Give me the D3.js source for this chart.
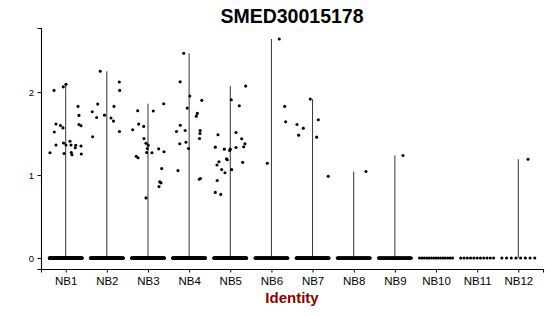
<!DOCTYPE html>
<html>
<head>
<meta charset="utf-8">
<script src="https://cdn.jsdelivr.net/npm/d3@7"></script>
<style>
  body { margin: 0; background: #fff; }
  text { font-family: "Liberation Sans", Arial, sans-serif; }
</style>
</head>
<body>
<div id="vln"></div>
<script>
// identities on the x axis
const identities = ["NB1", "NB2", "NB3", "NB4", "NB5", "NB6", "NB7", "NB8", "NB9", "NB10", "NB11", "NB12"];
const yTicks = [0, 1, 2];
const geneName = "SMED30015178";

// non-zero expression values per identity, with their jitter offset (fraction of a category step)
const nb1Values = [2.02, 2.063, 2.093, 1.827, 1.719, 1.610, 1.594, 1.616, 1.598, 1.568, 1.519, 1.362, 1.386, 1.362, 1.408, 1.362, 1.360, 1.329, 1.350, 1.268, 1.260, 1.272, 1.244, 1.254];
const nb1Jitter = [-0.284, -0.058, 0.007, 0.299, 0.323, 0.323, 0.372, -0.236, -0.126, -0.066, -0.277, -0.236, -0.053, 0.007, 0.104, 0.129, 0.243, 0.233, 0.372, -0.382, -0.041, 0.136, 0.153, 0.379];
const nb2Values = [2.250, 2.121, 2.020, 1.855, 1.763, 1.694, 1.722, 1.827, 1.688, 1.650, 1.525, 1.461];
const nb2Jitter = [-0.159, 0.303, 0.312, -0.222, -0.354, -0.247, -0.057, 0.174, 0.101, 0.162, 0.307, -0.344];
const nb3Values = [1.860, 1.775, 1.771, 1.614, 1.586, 1.546, 1.441, 1.384, 1.360, 1.320, 1.272, 1.268, 1.316, 1.280, 1.227, 1.208, 1.078, 0.918, 0.906, 0.861, 0.725];
const nb3Jitter = [0.382, -0.250, 0.129, -0.226, -0.104, -0.372, -0.097, -0.049, 0.007, -0.017, -0.032, 0.097, 0.260, 0.39, -0.284, -0.243, 0.333, 0.284, 0.316, 0.267, -0.049];
const nb4Values = [2.467, 2.123, 1.952, 1.900, 1.807, 1.743, 1.710, 1.600, 1.525, 1.537, 1.537, 1.501, 1.441, 1.377, 1.396, 1.320, 1.054, 0.958, 0.949];
const nb4Jitter = [-0.132, -0.218, 0.016, 0.307, -0.045, 0.198, 0.174, -0.215, -0.307, -0.096, 0.269, 0.264, 0.252, -0.227, -0.077, -0.016, -0.271, 0.276, 0.247];
const nb5Values = [2.072, 1.908, 1.836, 1.486, 1.513, 1.437, 1.377, 1.341, 1.336, 1.312, 1.312, 1.296, 1.332, 1.161, 1.121, 1.197, 1.184, 1.153, 1.066, 1.066, 1.028, 0.934, 0.791, 0.767];
const nb5Jitter = [0.374, 0.024, 0.219, -0.299, 0.139, 0.277, 0.357, 0.326, -0.365, -0.146, 0, -0.015, 0.139, -0.275, -0.323, -0.092, -0.073, 0.301, -0.209, 0.034, -0.129, -0.318, -0.365, -0.231];
const nb6Values = [2.640, 1.827, 1.643, 1.143];
const nb6Jitter = [0.191, 0.322, 0.346, -0.101];
const nb7Values = [1.915, 1.610, 1.565, 1.481, 1.667, 1.457, 0.986];
const nb7Jitter = [-0.056, -0.379, -0.226, -0.338, 0.139, 0.100, 0.381];
const nb8Values = [1.042];
const nb8Jitter = [0.298];
const nb9Values = [1.236];
const nb9Jitter = [0.197];
const nb10Values = [];
const nb10Jitter = [];
const nb11Values = [];
const nb11Jitter = [];
const nb12Values = [1.191];
const nb12Jitter = [0.236];

// estimated number of cells with zero expression in each identity
const zeroCounts = [260, 250, 230, 240, 230, 120, 150, 110, 100, 15, 11, 8];

const groupValues = [nb1Values, nb2Values, nb3Values, nb4Values, nb5Values, nb6Values, nb7Values, nb8Values, nb9Values, nb10Values, nb11Values, nb12Values];
const groupJitter = [nb1Jitter, nb2Jitter, nb3Jitter, nb4Jitter, nb5Jitter, nb6Jitter, nb7Jitter, nb8Jitter, nb9Jitter, nb10Jitter, nb11Jitter, nb12Jitter];

const W = 550, H = 316;
const margin = {top: 28, right: 7, bottom: 47, left: 41};
const width = W - margin.left - margin.right,
      height = H - margin.top - margin.bottom;

const svg = d3.select("#vln")
  .append("svg")
    .attr("width", W)
    .attr("height", H);

const g = svg.append("g")
    .attr("transform", `translate(${margin.left},${margin.top})`);

// build the cell table
const cells = [];
identities.forEach((id, i) => {
  groupValues[i].forEach((v, k) => cells.push({id: id, value: v, jit: groupJitter[i][k]}));
  const n = zeroCounts[i];
  for (let k = 0; k < n; k++) {
    cells.push({id: id, value: 0, jit: n > 1 ? -0.4 + 0.8 * k / (n - 1) : 0});
  }
});

const x = d3.scalePoint()
  .domain(identities)
  .range([0, width])
  .padding(0.6);

const yMax = d3.max(cells, d => d.value);
const pad = yMax * 0.05;
const y = d3.scaleLinear()
  .domain([-pad, yMax + pad])
  .range([height, 0]);

// violins collapse to a thin line from 0 to the max value
identities.forEach((id, i) => {
  const m = d3.max(groupValues[i]);
  if (!m) return;
  g.append("line")
    .attr("x1", x(id)).attr("x2", x(id))
    .attr("y1", y(0)).attr("y2", y(m))
    .attr("stroke", "#333")
    .attr("stroke-width", 1);
});

// jittered points
g.append("g")
  .selectAll("circle")
  .data(cells)
  .join("circle")
    .attr("cx", d => x(d.id) + d.jit * x.step())
    .attr("cy", d => y(d.value))
    .attr("r", 1.55)
    .attr("fill", "#000");

// axes
const xAxis = g.append("g")
  .attr("transform", `translate(0,${height})`)
  .call(d3.axisBottom(x).tickSizeOuter(0).tickSize(3.5).tickPadding(4));
xAxis.select(".domain").attr("stroke", "#000").attr("stroke-width", 1.1);
xAxis.selectAll(".tick line").attr("stroke", "#000");
xAxis.selectAll(".tick text")
  .attr("font-size", "11.5px")
  .attr("fill", "#000")
  .style("font-family", "'Liberation Sans', Arial, sans-serif");

const yAxis = g.append("g")
  .call(d3.axisLeft(y).tickValues(yTicks).tickFormat(d3.format("d")).tickSizeOuter(0).tickSize(3.5).tickPadding(3.5));
yAxis.select(".domain").attr("stroke", "#000").attr("stroke-width", 1.1);
yAxis.selectAll(".tick line").attr("stroke", "#000");
yAxis.selectAll(".tick text")
  .attr("font-size", "9.5px")
  .attr("fill", "#000")
  .style("font-family", "'Liberation Sans', Arial, sans-serif");

// title
svg.append("text")
  .attr("x", margin.left + width / 2)
  .attr("y", 22.7)
  .attr("text-anchor", "middle")
  .attr("font-size", "19.5px")
  .attr("font-weight", "bold")
  .attr("fill", "#000")
  .text(geneName);

// x axis title
svg.append("text")
  .attr("x", margin.left + width / 2)
  .attr("y", 303)
  .attr("text-anchor", "middle")
  .attr("font-size", "15px")
  .attr("font-weight", "bold")
  .attr("fill", "#8b0000")
  .text("Identity");
</script>
</body>
</html>
